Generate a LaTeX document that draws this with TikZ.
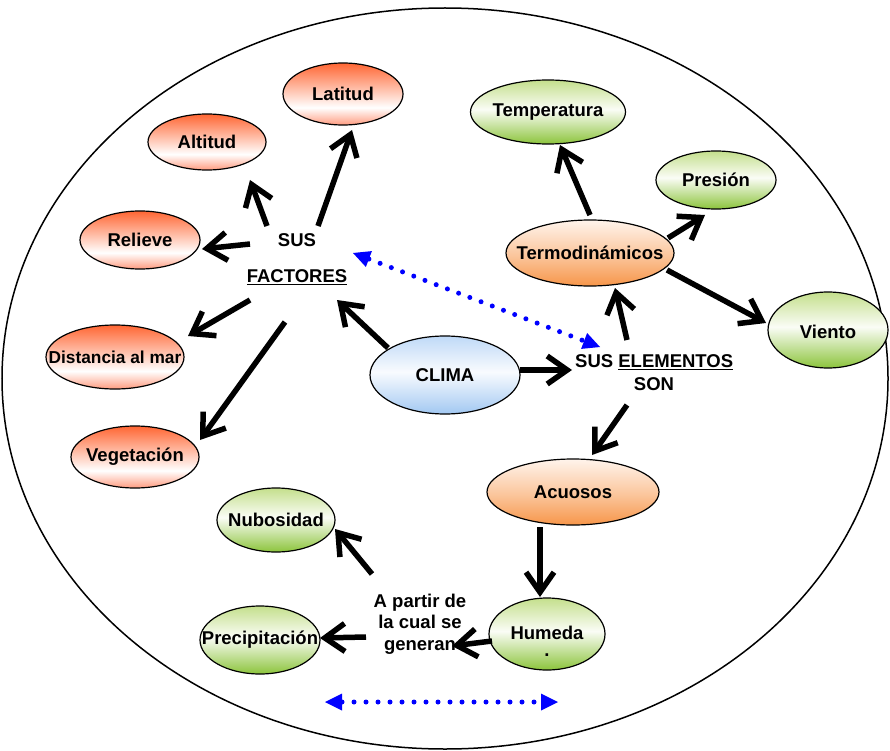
\documentclass[tikz,border=0pt]{standalone}
\usepackage{fontspec}
\setmainfont{Liberation Sans}
\usetikzlibrary{arrows.meta,shapes.geometric}
\definecolor{redT}{HTML}{FF6633}
\definecolor{redB}{HTML}{FF9C80}
\definecolor{grnT}{HTML}{C4DF8C}
\definecolor{grnB}{HTML}{8CC43C}
\definecolor{orgT}{HTML}{FFF4EC}
\definecolor{orgB}{HTML}{F7964A}
\definecolor{bluT}{HTML}{BFD9F7}
\definecolor{bluB}{HTML}{A2C8F2}
\definecolor{dotblue}{HTML}{0000FF}
\pgfdeclareverticalshading{redsh}{100bp}{color(0bp)=(redB); color(25bp)=(redB); color(39bp)=(white); color(75bp)=(redT); color(100bp)=(redT)}
\pgfdeclareverticalshading{grnsh}{100bp}{color(0bp)=(grnB); color(25bp)=(grnB); color(52bp)=(white!92!grnT); color(75bp)=(grnT); color(100bp)=(grnT)}
\pgfdeclareverticalshading{orgsh}{100bp}{color(0bp)=(orgB); color(25bp)=(orgB); color(48bp)=(orgB!55!white); color(75bp)=(orgT); color(100bp)=(orgT)}
\pgfdeclareverticalshading{blush}{100bp}{color(0bp)=(bluB); color(25bp)=(bluB); color(52bp)=(white!90!bluT); color(75bp)=(bluT); color(100bp)=(bluT)}
\begin{document}
\begin{tikzpicture}[x=1pt,y=-1pt,
  txt/.style={font=\bfseries\fontsize{18.5}{21.5}\selectfont, inner sep=0pt, align=center},
  bub/.style={ellipse, draw=black, line width=1.2pt, inner sep=0pt, shade},
  redb/.style={bub, shading=redsh},
  grnb/.style={bub, shading=grnsh},
  orgb/.style={bub, shading=orgsh},
  blub/.style={bub, shading=blush},
  blk/.style={line width=5.5pt, -{Straight Barb[length=20pt,width=28pt]}},
  bdot/.style={dotblue, line width=5pt, dash pattern=on 0pt off 12pt, line cap=round,
     {Triangle[length=17pt,width=17pt,line width=0pt]}-{Triangle[length=17pt,width=17pt,line width=0pt]}}
]
\useasboundingbox (0,0) rectangle (890,751);
\node[draw, ellipse, line width=1.5pt, minimum width=886pt, minimum height=741pt, inner sep=0pt] (frame) at (445,378.5) {};

% factores
\node[redb, minimum width=120pt, minimum height=62pt] (latitud) at (343,94) {};
\node[txt] at (latitud) {Latitud};
\node[redb, minimum width=118pt, minimum height=56pt] (altitud) at (207,142) {};
\node[txt] at (altitud) {Altitud};
\node[redb, minimum width=120pt, minimum height=58pt] (relieve) at (140,240) {};
\node[txt] at (relieve) {Relieve};
\node[redb, minimum width=138pt, minimum height=64pt] (distancia) at (115,357) {};
\node[txt, font=\bfseries\fontsize{17.3}{20}\selectfont] at (distancia) {Distancia al mar};
\node[redb, minimum width=128pt, minimum height=62pt] (vegetacion) at (135,457) {};
\node[txt] at (vegetacion) {Vegetación};

% elementos
\node[grnb, minimum width=155pt, minimum height=64pt] (temperatura) at (548,112) {};
\node[txt] at (temperatura) {Temperatura};
\node[grnb, minimum width=120pt, minimum height=58pt] (presion) at (716,180) {};
\node[txt] at (presion) {Presión};
\node[orgb, minimum width=168pt, minimum height=66pt] (termo) at (590,253) {};
\node[txt] at (termo) {Termodinámicos};
\node[grnb, minimum width=120pt, minimum height=76pt] (viento) at (828,330) {};
\node[txt] at ([yshift=-2pt]viento) {Viento};
\node[blub, minimum width=150pt, minimum height=78pt] (clima) at (445,375) {};
\node[txt] at (clima) {CLIMA};
\node[orgb, minimum width=172pt, minimum height=66pt] (acuosos) at (573,492) {};
\node[txt] at (acuosos) {Acuosos};
\node[grnb, minimum width=116pt, minimum height=72pt] (humedad) at (547,634) {};
\node[txt] at ([yshift=1pt]humedad) {Humeda};
\node[txt, text height=3pt, text depth=0pt] at ([yshift=-21pt]humedad) {.};
\node[grnb, minimum width=118pt, minimum height=64pt] (nubosidad) at (276,520) {};
\node[txt] at (nubosidad) {Nubosidad};
\node[grnb, minimum width=120pt, minimum height=68pt] (precip) at (260,640) {};
\node[txt] at (precip) {Precipitación};

% text labels
\node[txt] (sus) at (297,240) {SUS};
\node[txt] (factores) at (297,277) {\underline{FACTORES}};
\node[txt, anchor=west] (suselem) at (575,362) {SUS \underline{ELEMENTOS}};
\node[txt] (son) at (654,384) {SON};
\node[txt] (apartir) at (420,624) {A partir de\\la cual se\\generan};

% connector end points
\coordinate (a1) at (318,226); \coordinate (b1) at (352,130);
\coordinate (a2) at (267,226); \coordinate (b2) at (250,180);
\coordinate (a3) at (250,244); \coordinate (b3) at (202,249);
\coordinate (a4) at (250,300); \coordinate (b4) at (188,336);
\coordinate (a5) at (285,322); \coordinate (b5) at (200,440);
\coordinate (a6) at (388,348); \coordinate (b6) at (337,300);
\coordinate (a7) at (520,370); \coordinate (b7) at (572,370);
\coordinate (a8) at (627,340); \coordinate (b8) at (615,288);
\coordinate (a9) at (590,215); \coordinate (b9) at (560,145);
\coordinate (a10) at (668,238); \coordinate (b10) at (705,215);
\coordinate (a11) at (667,270); \coordinate (b11) at (766,323);
\coordinate (a12) at (627,405); \coordinate (b12) at (592,455);
\coordinate (a13) at (540,527); \coordinate (b13) at (540,597);
\coordinate (a14) at (492,641); \coordinate (b14) at (452,646);
\coordinate (a15) at (372,574); \coordinate (b15) at (335,529);
\coordinate (a16) at (366,637); \coordinate (b16) at (320,638);

\draw[blk] (a1) -- (b1);
\draw[blk] (a2) -- (b2);
\draw[blk] (a3) -- (b3);
\draw[blk] (a4) -- (b4);
\draw[blk] (a5) -- (b5);
\draw[blk] (a6) -- (b6);
\draw[blk] (a7) -- (b7);
\draw[blk] (a8) -- (b8);
\draw[blk] (a9) -- (b9);
\draw[blk] (a10) -- (b10);
\draw[blk] (a11) -- (b11);
\draw[blk] (a12) -- (b12);
\draw[blk] (a13) -- (b13);
\draw[blk] (a14) -- (b14);
\draw[blk] (a15) -- (b15);
\draw[blk] (a16) -- (b16);

% blue dotted arrows
\coordinate (d1) at (353,253); \coordinate (d2) at (600,347);
\coordinate (d3) at (325,702); \coordinate (d4) at (558,702);
\draw[bdot] (d1) -- (d2);
\draw[bdot] (d3) -- (d4);
\end{tikzpicture}
\end{document}
